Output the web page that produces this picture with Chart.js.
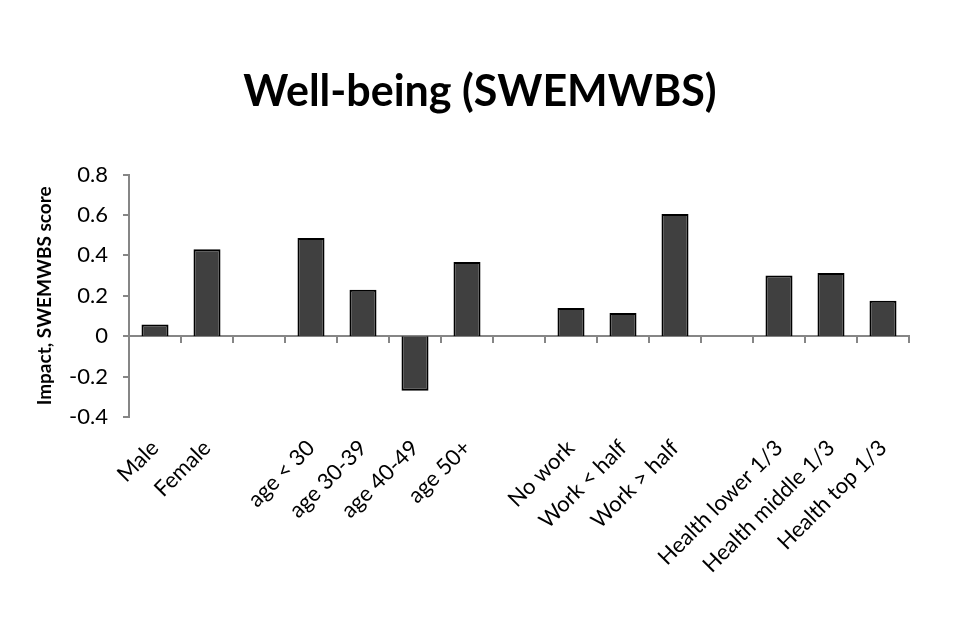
<!DOCTYPE html>
<html>
<head>
<meta charset="utf-8">
<script src="https://cdn.jsdelivr.net/npm/chart.js@4"></script>
<style>
  html, body { margin: 0; padding: 0; background: #fff; }
  #wrap { width: 960px; height: 640px; }
</style>
</head>
<body>
<div id="wrap"><canvas id="c" width="960" height="640"></canvas></div>
<script>
const chartTitle = 'Well-being (SWEMWBS)';
const yAxisTitle = 'Impact, SWEMWBS score';
const categories = ['Male', 'Female', '', 'age < 30', 'age 30-39', 'age 40-49', 'age 50+', '', 'No work', 'Work < half', 'Work > half', '', 'Health lower 1/3', 'Health middle 1/3', 'Health top 1/3'];
const impactValues = [0.058, 0.43, null, 0.486, 0.23, -0.27, 0.367, null, 0.14, 0.115, 0.605, null, 0.30, 0.313, 0.175];
const yMin = -0.4, yMax = 0.8, yStep = 0.2;

const FONT = 'Lato, "Open Sans", sans-serif';
const axisGray = '#868686';

new Chart(document.getElementById('c'), {
  type: 'bar',
  data: {
    labels: categories,
    datasets: [{
      data: impactValues,
      backgroundColor: '#404040',
      borderColor: '#000000',
      borderWidth: 2,
      barPercentage: 0.52,
      categoryPercentage: 1.0,
      xAxisID: 'x',
      yAxisID: 'y'
    }]
  },
  options: {
    responsive: false,
    animation: false,
    devicePixelRatio: 1,
    layout: { padding: 0 },
    plugins: {
      legend: { display: false },
      tooltip: { enabled: false },
      title: {
        display: true,
        text: chartTitle,
        color: '#000',
        font: { family: FONT, size: 43, weight: 'bold', lineHeight: 1.2 },
        padding: { top: 66, bottom: 57 }
      }
    },
    scales: {
      x: {
        type: 'category',
        position: 'bottom',
        offset: true,
        border: { display: false },
        grid: { display: false, drawTicks: false },
        ticks: {
          color: '#000',
          font: { family: FONT, size: 22 },
          minRotation: 45,
          maxRotation: 45,
          autoSkip: false,
          padding: 18
        },
        afterFit: (s) => { s.height = 223; }
      },
      x0: {
        type: 'category',
        position: { y: 0 },
        offset: true,
        border: { display: true, color: axisGray, width: 2 },
        grid: { offset: true, drawOnChartArea: false, drawTicks: true, tickLength: 6, color: axisGray, lineWidth: 2 },
        ticks: { display: false }
      },
      y: {
        min: yMin,
        max: yMax,
        border: { display: true, color: axisGray, width: 2 },
        grid: { drawOnChartArea: false, drawTicks: true, tickLength: 6, color: axisGray, lineWidth: 2 },
        ticks: {
          stepSize: yStep,
          color: '#000',
          font: { family: FONT, size: 22 },
          padding: 15,
          callback: (v) => {
            const r = Math.round(v * 10) / 10;
            return r === 0 ? '0' : r.toFixed(1);
          }
        },
        title: {
          display: true,
          text: yAxisTitle,
          color: '#000',
          font: { family: FONT, size: 19, weight: 'bold' },
          padding: { top: 33, bottom: 4 }
        },
        afterFit: (s) => { s.width = 129; }
      },
      yRightSpace: {
        position: 'right',
        display: true,
        border: { display: false },
        grid: { display: false, drawTicks: false },
        ticks: { display: false },
        afterFit: (s) => { s.width = 51; }
      }
    }
  }
});
</script>
</body>
</html>
